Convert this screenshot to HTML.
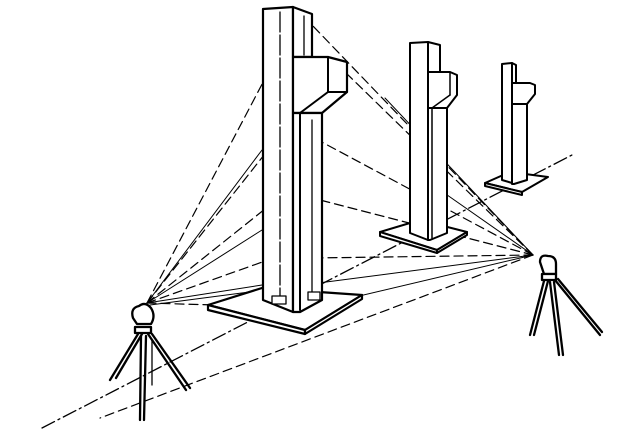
<!DOCTYPE html>
<html><head><style>html,body{margin:0;padding:0;background:#fff}svg{display:block}</style></head>
<body>
<svg width="640" height="443" viewBox="0 0 640 443" xmlns="http://www.w3.org/2000/svg">
<g fill="none" stroke="#000" stroke-linecap="round" stroke-linejoin="round">
<!-- axis lines -->
<line x1="42" y1="428" x2="572" y2="155" stroke-width="1.3" stroke-dasharray="14 4 2 4"/>
<!-- rays from left instrument -->
<g stroke-width="1.2" stroke-dasharray="9 5">
<line x1="147" y1="303" x2="280" y2="50"/>
<line x1="147" y1="303" x2="268" y2="150"/>
<line x1="147" y1="303" x2="270" y2="205"/>
<line x1="147" y1="303" x2="268" y2="260"/>
<line x1="147" y1="303" x2="215" y2="305"/>
</g>
<g stroke-width="1">
<line x1="147" y1="303" x2="262" y2="150"/>
<line x1="147" y1="303" x2="262" y2="230"/>
<line x1="147" y1="303" x2="262" y2="285"/>
</g>
<!-- rays from right instrument -->
<g stroke-width="1.2" stroke-dasharray="9 5">
<line x1="533" y1="255" x2="312" y2="25"/>
<line x1="533" y1="255" x2="345" y2="72"/>
<line x1="533" y1="255" x2="318" y2="140"/>
<line x1="533" y1="255" x2="320" y2="200"/>
<line x1="533" y1="255" x2="312" y2="258"/>
<line x1="533" y1="255" x2="100" y2="418"/>
</g>
<g stroke-width="1">
<line x1="533" y1="255" x2="385" y2="98"/>
<line x1="533" y1="255" x2="440" y2="190"/>
<line x1="533" y1="255" x2="300" y2="310"/>
<line x1="533" y1="255" x2="150" y2="305"/>
</g>
<!-- big column -->
<g fill="#fff" stroke-width="2.2">
<polygon points="208,305 262,288 362,295 305,330"/>
<polygon points="208,305 305,330 305,334 208,310"/>
<polygon points="305,330 362,295 362,299 305,334"/>
<polygon points="263,9 293,7 293,312 263,300"/>
<polygon points="293,7 312,14 312,57 293,57"/>
<polygon points="293,57 328,57 347,62 347,92 322,113 293,113"/>
<polygon points="293,113 322,113 322,300 300,312 293,312"/>
</g>
<g stroke-width="1.3">
<line x1="280" y1="12" x2="280" y2="298" stroke-dasharray="20 3"/>
<line x1="304" y1="16" x2="304" y2="55"/>
<line x1="328" y1="57" x2="328" y2="92" stroke-width="2"/>
<line x1="328" y1="92" x2="300" y2="113" stroke-width="2"/>
<line x1="328" y1="92" x2="347" y2="92" stroke-width="2"/>
<line x1="300" y1="113" x2="300" y2="310" stroke-width="2"/>
<line x1="312" y1="120" x2="312" y2="300"/>
<rect x="272" y="296" width="14" height="8" fill="#fff"/>
<rect x="308" y="292" width="12" height="8" fill="#fff"/>
</g>
<!-- middle column -->
<g fill="#fff" stroke-width="2">
<polygon points="380,232 420,220 467,232 437,250"/>
<polygon points="380,232 437,250 437,253 380,236"/>
<polygon points="437,250 467,232 467,235 437,253"/>
<polygon points="410,43 428,42 428,240 410,233"/>
<polygon points="428,42 440,45 440,72 428,72"/>
<polygon points="428,72 450,72 457,75 457,95 447,108 428,108"/>
<polygon points="428,108 447,108 447,233 430,240 428,240"/>
</g>
<g stroke-width="1.5">
<line x1="450" y1="72" x2="450" y2="95"/>
<line x1="450" y1="95" x2="432" y2="108"/>
<line x1="432" y1="108" x2="432" y2="238"/>
</g>
<!-- far column -->
<g fill="#fff" stroke-width="2">
<polygon points="485,183 510,172 548,177 522,192"/>
<polygon points="485,183 522,192 522,195 485,186"/>
<polygon points="502,64 512,63 512,183 502,180"/>
<polygon points="512,63 516,65 516,83 512,83"/>
<polygon points="512,83 530,83 535,85 535,94 527,104 512,104"/>
<polygon points="512,104 527,104 527,180 514,184 512,184"/>
</g>
<!-- left instrument -->
<g stroke-width="2.3">
<path d="M133 318 q-3 -10 6 -12 q6 -5 12 2 q5 8 0 16 h-14 z" fill="#fff"/>
<rect x="135" y="327" width="16" height="6" fill="#fff"/>
<line x1="138" y1="334" x2="110" y2="380"/>
<line x1="142" y1="334" x2="116" y2="378"/>
<line x1="141" y1="336" x2="140" y2="420"/>
<line x1="146" y1="336" x2="144" y2="420"/>
<line x1="148" y1="334" x2="186" y2="390"/>
<line x1="152" y1="334" x2="190" y2="388"/>
<line x1="152" y1="340" x2="152" y2="385" stroke-width="1.3"/>
</g>
<!-- right instrument -->
<g stroke-width="2.3">
<path d="M540 262 q0 -8 8 -6 q8 0 8 8 l0 10 h-12 z" fill="#fff"/>
<rect x="542" y="274" width="14" height="6" fill="#fff"/>
<line x1="544" y1="281" x2="530" y2="335"/>
<line x1="548" y1="281" x2="534" y2="335"/>
<line x1="550" y1="282" x2="559" y2="355"/>
<line x1="554" y1="282" x2="563" y2="355"/>
<line x1="555" y1="280" x2="600" y2="335"/>
<line x1="558" y1="279" x2="602" y2="332"/>
</g>
</g>
</svg>
</body></html>
